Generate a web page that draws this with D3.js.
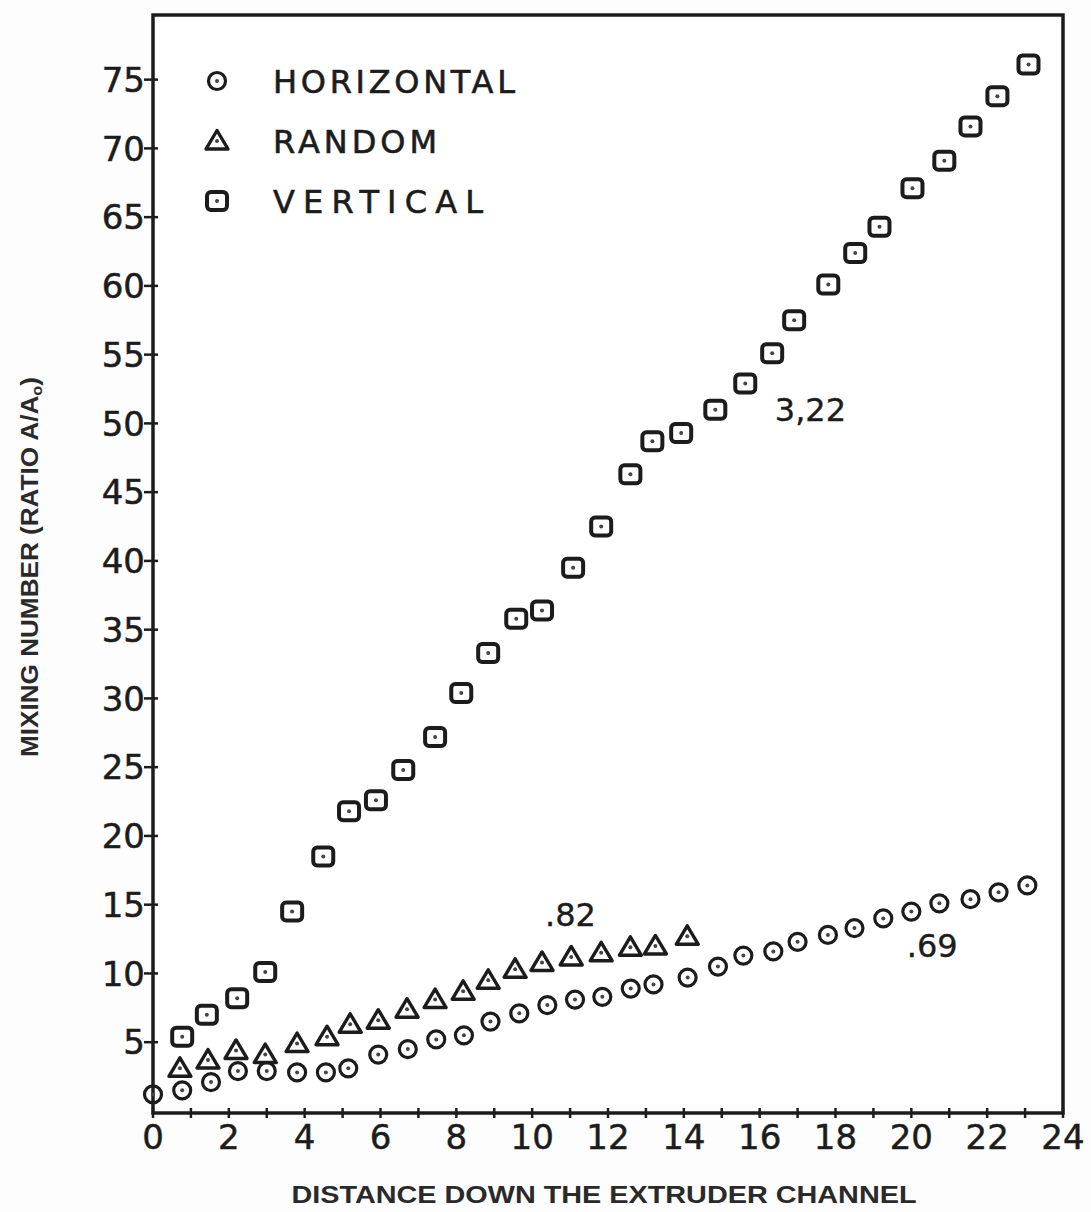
<!DOCTYPE html>
<html>
<head>
<meta charset="utf-8">
<script src="https://cdn.jsdelivr.net/npm/d3@7"></script>
<style>
    body { margin: 0; background: #fdfdfd; }
    svg { display: block; }
</style>
</head>
<body>
<div id="chart"></div>
<script>
// values

const xTickLabels = [0, 2, 4, 6, 8, 10, 12, 14, 16, 18, 20, 22, 24]
const xMinorTicks = [1, 3, 5, 7, 9, 11, 13, 15, 17, 19, 21, 23]
const yTickLabels = [5, 10, 15, 20, 25, 30, 35, 40, 45, 50, 55, 60, 65, 70, 75]

const horizontalX = [0, 0.77, 1.53, 2.24, 3.0, 3.8, 4.56, 5.15, 5.94, 6.72, 7.47, 8.2, 8.9, 9.66, 10.4, 11.13,
    11.85, 12.6, 13.2, 14.1, 14.9, 15.57, 16.36, 17.0, 17.8, 18.5, 19.26, 20.0, 20.74, 21.56, 22.3, 23.06]
const horizontalY = [1.2, 1.5, 2.1, 2.9, 2.9, 2.8, 2.8, 3.1, 4.1, 4.5, 5.2, 5.5, 6.5, 7.1, 7.7, 8.1,
    8.3, 8.9, 9.2, 9.7, 10.5, 11.3, 11.6, 12.3, 12.8, 13.3, 14.0, 14.5, 15.1, 15.4, 15.9, 16.4]

const randomX = [0.71, 1.45, 2.19, 2.96, 3.8, 4.59, 5.2, 5.94, 6.7, 7.44, 8.18, 8.84, 9.55, 10.26, 11.03, 11.82, 12.59, 13.25, 14.09]
const randomY = [3.1, 3.7, 4.4, 4.1, 4.9, 5.4, 6.3, 6.6, 7.4, 8.1, 8.7, 9.5, 10.3, 10.8, 11.2, 11.5, 11.9, 12.0, 12.7]

const verticalX = [0.77, 1.42, 2.22, 2.96, 3.67, 4.49, 5.17, 5.88, 6.6, 7.44, 8.13, 8.84, 9.58, 10.26, 11.08, 11.82,
    12.59, 13.17, 13.93, 14.83, 15.62, 16.33, 16.91, 17.81, 18.52, 19.16, 20.03, 20.87, 21.56, 22.27, 23.09]
const verticalY = [5.4, 7.0, 8.2, 10.1, 14.5, 18.5, 21.8, 22.6, 24.8, 27.2, 30.4, 33.3, 35.8, 36.4, 39.5, 42.5,
    46.3, 48.7, 49.3, 51.0, 52.9, 55.1, 57.5, 60.1, 62.4, 64.3, 67.1, 69.1, 71.6, 73.8, 76.1]

const seriesNames = ["HORIZONTAL", "RANDOM", "VERTICAL"]
const seriesShapes = ["circle", "triangle", "square"]

// slope labels written beside each group (x, y in data units)
const slopeLabels = ["3,22", ".82", ".69"]
const slopeX = [16.4, 10.34, 19.88]
const slopeY = [50.2, 13.45, 11.2]

const width = 1091
const height = 1212
const margin = {top: 15, right: 28, bottom: 99, left: 153}
const ink = "#1c1c1c"

let svg = d3.select("#chart")
    .append("svg")
    .attr("width", width)
    .attr("height", height)

let x = d3.scaleLinear()
    .domain([0, 24])
    .range([margin.left, width - margin.right])
let y = d3.scaleLinear()
    .domain([-0.15, 79.7])
    .range([height - margin.bottom, margin.top])

// frame
svg.append("rect")
    .attr("x", x(0))
    .attr("y", y(79.7))
    .attr("width", x(24) - x(0))
    .attr("height", y(-0.15) - y(79.7))
    .attr("fill", "#fff")
    .attr("stroke", ink)
    .attr("stroke-width", 3.5)

// x axis: ticks every unit, labels every 2
let xAxis = svg.append("g")
    .attr("transform", "translate(0," + y(-0.15) + ")")
xAxis.selectAll("line")
    .data(xTickLabels.concat(xMinorTicks))
    .enter()
    .append("line")
        .attr("x1", d => x(d))
        .attr("x2", d => x(d))
        .attr("y1", -5)
        .attr("y2", 5)
        .attr("stroke", ink)
        .attr("stroke-width", 2.5)
xAxis.selectAll("text")
    .data(xTickLabels)
    .enter()
    .append("text")
        .attr("x", d => x(d))
        .attr("y", 36)
        .attr("text-anchor", "middle")
        .attr("font-family", "DejaVu Sans")
        .attr("font-size", 34)
        .attr("fill", ink)
        .attr("stroke", ink)
        .attr("stroke-width", 0.5)
        .text(d => d)

// y axis
let yAxis = svg.append("g")
    .attr("transform", "translate(" + x(0) + ",0)")
yAxis.selectAll("line")
    .data(yTickLabels)
    .enter()
    .append("line")
        .attr("x1", -9)
        .attr("x2", 5)
        .attr("y1", d => y(d))
        .attr("y2", d => y(d))
        .attr("stroke", ink)
        .attr("stroke-width", 2.5)
yAxis.selectAll("text")
    .data(yTickLabels)
    .enter()
    .append("text")
        .attr("x", -8)
        .attr("y", d => y(d))
        .attr("dy", "0.36em")
        .attr("text-anchor", "end")
        .attr("font-family", "DejaVu Sans")
        .attr("font-size", 34)
        .attr("fill", ink)
        .attr("stroke", ink)
        .attr("stroke-width", 0.5)
        .text(d => d)

// axis titles
svg.append("text")
    .attr("x", (x(0) + x(24)) / 2 - 4)
    .attr("y", 1203)
    .attr("text-anchor", "middle")
    .attr("font-family", "Liberation Sans")
    .attr("font-weight", "bold")
    .attr("font-size", 24)
    .attr("textLength", 625)
    .attr("lengthAdjust", "spacingAndGlyphs")
    .attr("fill", "#2a2a2a")
    .text("DISTANCE DOWN THE EXTRUDER CHANNEL")

let yTitle = svg.append("text")
    .attr("transform", "translate(38,567) rotate(-90)")
    .attr("text-anchor", "middle")
    .attr("font-family", "Liberation Sans")
    .attr("font-weight", "bold")
    .attr("font-size", 24)
    .attr("textLength", 380)
    .attr("lengthAdjust", "spacingAndGlyphs")
    .attr("fill", "#2a2a2a")
yTitle.append("tspan").text("MIXING NUMBER (RATIO A/A")
yTitle.append("tspan").attr("font-size", 15).attr("dy", 4).text("o")
yTitle.append("tspan").attr("dy", -4).text(")")

// marker drawing
function drawMarker(g, shape) {
    if (shape === "circle") {
        g.append("circle")
            .attr("r", 8.5)
            .attr("fill", "none")
            .attr("stroke", ink)
            .attr("stroke-width", 3.2)
    } else if (shape === "triangle") {
        g.append("path")
            .attr("d", "M0,-10.5 L11,8 L-11,8 Z")
            .attr("fill", "none")
            .attr("stroke", ink)
            .attr("stroke-width", 3.4)
            .attr("stroke-linejoin", "round")
    } else {
        g.append("rect")
            .attr("x", -10)
            .attr("y", -9)
            .attr("width", 20)
            .attr("height", 18)
            .attr("rx", 4)
            .attr("fill", "none")
            .attr("stroke", ink)
            .attr("stroke-width", 4)
    }
    g.append("circle")
        .attr("r", 2)
        .attr("fill", "#444")
}

let series = [
    {xs: horizontalX, ys: horizontalY, shape: seriesShapes[0]},
    {xs: randomX, ys: randomY, shape: seriesShapes[1]},
    {xs: verticalX, ys: verticalY, shape: seriesShapes[2]}
]

series.forEach(s => {
    let data = s.xs.map((d, i) => ({x: d, y: s.ys[i]}))
    svg.append("g")
        .selectAll("g")
        .data(data)
        .enter()
        .append("g")
            .attr("transform", d => "translate(" + x(d.x) + "," + y(d.y) + ")")
            .each(function() { drawMarker(d3.select(this), s.shape) })
})

// slope labels
svg.append("g")
    .selectAll("text")
    .data(slopeLabels)
    .enter()
    .append("text")
        .attr("x", (d, i) => x(slopeX[i]))
        .attr("y", (d, i) => y(slopeY[i]))
        .attr("font-family", "DejaVu Sans")
        .attr("font-size", 32)
        .attr("fill", ink)
        .attr("stroke", ink)
        .attr("stroke-width", 0.4)
        .text(d => d)

// legend
let legendLengths = [242, 164, 210]
let legend = svg.append("g")
    .selectAll("g")
    .data(seriesNames)
    .enter()
    .append("g")
        .attr("transform", (d, i) => "translate(217," + (81 + i * 60) + ")")
legend.each(function(d, i) { drawMarker(d3.select(this), seriesShapes[i]) })
legend.append("text")
    .attr("x", 56)
    .attr("dy", "0.36em")
    .attr("font-family", "DejaVu Sans")
    .attr("font-size", 32)
    .attr("textLength", (d, i) => legendLengths[i])
    .attr("lengthAdjust", "spacing")
    .attr("fill", ink)
    .attr("stroke", ink)
    .attr("stroke-width", 0.6)
    .text(d => d)
</script>
</body>
</html>
